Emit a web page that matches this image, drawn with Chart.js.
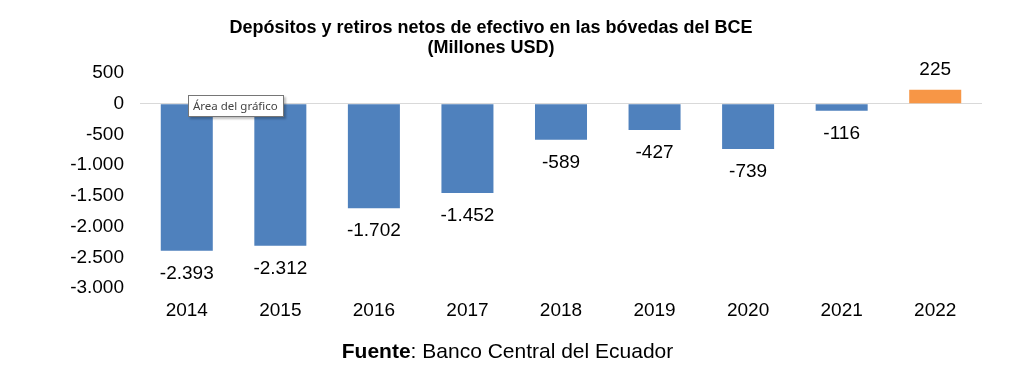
<!DOCTYPE html>
<html>
<head>
<meta charset="utf-8">
<script src="https://cdn.jsdelivr.net/npm/chart.js@4.4.1/dist/chart.umd.min.js"></script>
<style>
  html, body { margin: 0; padding: 0; background: #fff; }
  .wrap { position: relative; width: 1034px; height: 381px; }
  #chart { position: absolute; left: 0; top: 0; }
  .fuente { position: absolute; left: 0; width: 1015px; top: 339px; text-align: center;
    font-family: "Liberation Sans", Arial, sans-serif; font-size: 21px; color: #000; }
  .tip { position: absolute; left: 188px; top: 95px; padding: 2px 5px 3px 4px;
    font-family: "Noto Sans", "DejaVu Sans", sans-serif; font-size: 11.5px; line-height: 15px; color: #444;
    background: #fff; border: 1px solid #767676; box-shadow: 2px 2px 2px rgba(0,0,0,0.25); }
</style>
</head>
<body>
<div class="wrap">
  <canvas id="chart" width="1034" height="381"></canvas>
  <div class="tip">Área del gráfico</div>
  <div class="fuente"><b>Fuente</b>: Banco Central del Ecuador</div>
</div>
<script>
// datos
const years = ['2014', '2015', '2016', '2017', '2018', '2019', '2020', '2021', '2022'];
const netos = [-2393, -2312, -1702, -1452, -589, -427, -739, -116, 225];
const yTicks = [500, 0, -500, -1000, -1500, -2000, -2500, -3000];

const AZUL = '#4F81BD';
const NARANJA = '#F79646';
const FUENTE = '"Liberation Sans", Arial, sans-serif';

function fmt(v) {
  const s = Math.abs(v).toString().replace(/\B(?=(\d{3})+(?!\d))/g, '.');
  return (v < 0 ? '-' : '') + s;
}

// etiquetas de datos
const etiquetas = {
  id: 'etiquetas',
  afterDatasetsDraw(chart) {
    const ctx = chart.ctx;
    const meta = chart.getDatasetMeta(0);
    ctx.save();
    ctx.font = '19px ' + FUENTE;
    ctx.fillStyle = '#000';
    ctx.textAlign = 'center';
    ctx.textBaseline = 'middle';
    meta.data.forEach((bar, i) => {
      const v = netos[i];
      const y = v < 0 ? bar.y + 23 : bar.y - 20;
      ctx.fillText(fmt(v), bar.x, y);
    });
    ctx.restore();
  }
};

new Chart(document.getElementById('chart'), {
  type: 'bar',
  data: {
    labels: years,
    datasets: [{
      data: netos,
      backgroundColor: netos.map(v => v >= 0 ? NARANJA : AZUL),
      barPercentage: 0.556,
      categoryPercentage: 1
    }]
  },
  options: {
    responsive: false,
    animation: false,
    layout: { padding: { left: 0, right: 52, top: 0, bottom: 53 } },
    plugins: {
      legend: { display: false },
      tooltip: { enabled: false },
      title: {
        display: true,
        text: ['Depósitos y retiros netos de efectivo en las bóvedas del BCE', '(Millones USD)'],
        color: '#000',
        font: { family: FUENTE, size: 18, weight: 'bold', lineHeight: 1.11 },
        padding: { top: 18, bottom: 15 }
      }
    },
    scales: {
      x: {
        grid: { display: false, drawTicks: false },
        border: { display: false },
        ticks: { color: '#000', padding: 11, font: { family: FUENTE, size: 19 } },
        afterFit(scale) { scale.height = 40; }
      },
      y: {
        min: -3000, max: 500,
        afterBuildTicks(scale) { scale.ticks = yTicks.map(v => ({ value: v })); },
        grid: {
          drawTicks: false,
          color: c => c.tick && c.tick.value === 0 ? '#d9d9d9' : 'rgba(0,0,0,0)'
        },
        border: { display: false },
        ticks: {
          color: '#000', padding: 16,
          font: { family: FUENTE, size: 19 },
          callback: v => fmt(v)
        },
        afterFit(scale) { scale.width = 140; }
      }
    }
  },
  plugins: [etiquetas]
});
</script>
</body>
</html>
